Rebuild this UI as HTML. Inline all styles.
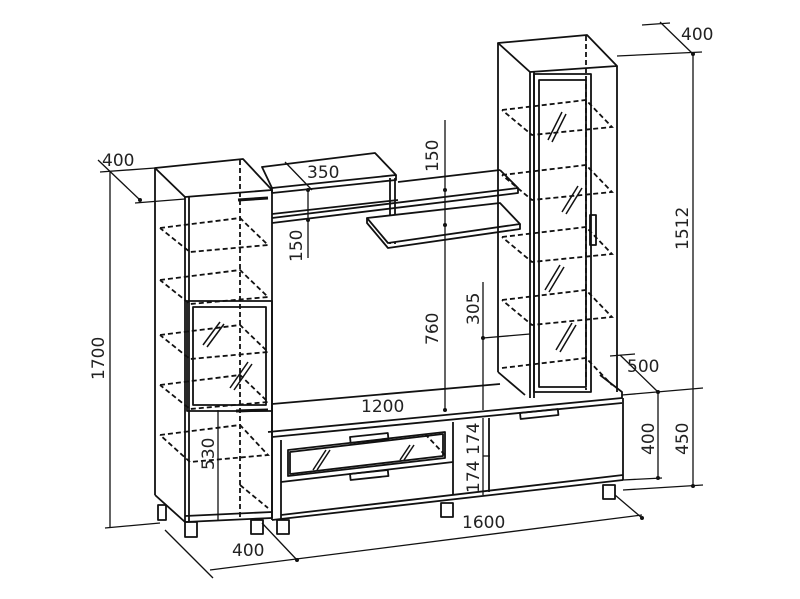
<!DOCTYPE html>
<html><head><meta charset="utf-8"><style>
html,body{margin:0;padding:0;background:#fff}
svg{display:block}
text{font-family:"DejaVu Sans","Liberation Sans",sans-serif;font-size:17px;fill:#222}
</style></head><body>
<svg width="800" height="599" viewBox="0 0 800 599" xmlns="http://www.w3.org/2000/svg">
<g fill="none" stroke="#111" stroke-width="1.8" stroke-linejoin="round">
<!-- LEFT TOWER -->
<polygon points="155,168 243,159 272,190 185,197" fill="#fff"/>
<line x1="155" y1="168" x2="155" y2="495"/>
<line x1="185" y1="197" x2="185" y2="522"/>
<line x1="189" y1="197" x2="189" y2="522"/>
<line x1="272" y1="190" x2="272" y2="518"/>
<line x1="155" y1="495" x2="185" y2="522"/>
<line x1="185" y1="522" x2="272" y2="518"/>
<line x1="185" y1="516" x2="272" y2="512"/>
<rect x="187" y="301" width="85" height="110"/>
<rect x="193" y="307" width="73" height="98"/>
<line x1="238" y1="200" x2="268" y2="198" stroke-width="3"/>
<line x1="236" y1="411" x2="268" y2="410" stroke-width="3"/>
<!-- legs -->
<rect x="158" y="505" width="8" height="15"/><rect x="185" y="522" width="12" height="15"/><rect x="251" y="520" width="12" height="14"/>
<!-- MIDDLE SHELVES -->
<polygon points="262,167 375,153 396,175 272,188" fill="#fff"/>
<polyline points="272,188 272,193 396,180 396,175"/>
<line x1="390" y1="178" x2="390" y2="244"/>
<line x1="395" y1="178" x2="395" y2="244"/>
<polygon points="272,215 378,203 500,170 512,186" fill="none" stroke="none"/>
<line x1="272" y1="214" x2="398" y2="200"/>
<line x1="398" y1="182" x2="500" y2="170"/>
<line x1="500" y1="170" x2="518" y2="188"/>
<polyline points="272,218 518,188 518,193 272,223"/>
<polygon points="367,218 500,203 520,224 388,243" fill="#fff"/>
<polyline points="367,218 367,223 388,248 520,229 520,224"/>
<!-- RIGHT TOWER -->
<polygon points="498,43 587,35 617,66 530,72" fill="#fff"/>
<line x1="498" y1="43" x2="498" y2="372"/>
<line x1="530" y1="72" x2="530" y2="398"/>
<line x1="534" y1="72" x2="534" y2="398"/>
<line x1="617" y1="66" x2="617" y2="392"/>
<line x1="498" y1="372" x2="525" y2="395"/>
<rect x="534" y="74" width="57" height="318"/>
<rect x="539" y="80" width="47" height="307"/>
<rect x="590" y="215" width="6" height="30"/>
<!-- LOW UNIT -->
<polygon points="272,432 272,397 445,381" fill="none" stroke="none"/>
<line x1="272" y1="432" x2="272" y2="405"/>
<line x1="272" y1="404" x2="500" y2="384"/>
<polyline points="268,432 622,398 622,392 600,375"/>
<line x1="272" y1="437" x2="622" y2="403"/>
<line x1="281" y1="440" x2="281" y2="520"/>
<line x1="272" y1="432" x2="272" y2="520"/>
<line x1="272" y1="520" x2="623" y2="480"/>
<line x1="281" y1="515" x2="623" y2="475"/>
<line x1="623" y1="398" x2="623" y2="480"/>
<line x1="453" y1="422" x2="453" y2="495"/>
<line x1="489" y1="418" x2="489" y2="492"/>
<line x1="281" y1="482" x2="453" y2="462"/>
<polygon points="288,450 445,432 445,458 288,476"/>
<polygon points="290,452 443,434 443,456 290,474"/>
<rect x="350" y="437" width="38" height="6" transform="rotate(-6 350 437)"/>
<rect x="350" y="474" width="38" height="6" transform="rotate(-6 350 474)"/>
<rect x="520" y="413" width="38" height="6" transform="rotate(-6 520 413)"/>
<rect x="277" y="520" width="12" height="14"/><rect x="441" y="503" width="12" height="14"/><rect x="603" y="485" width="12" height="14"/>
</g>
<!-- dashed internals -->
<g fill="none" stroke="#111" stroke-width="1.8" stroke-dasharray="5,3">
<line x1="240" y1="160" x2="240" y2="520"/>
<polyline points="160,228 240,218 268,245 190,252 160,228"/>
<polyline points="160,280 240,270 268,297 190,304 160,280"/>
<polyline points="160,335 240,325 268,352 190,359 160,335"/>
<polyline points="160,385 240,375 268,402 190,409 160,385"/>
<polyline points="160,435 240,425 268,455 190,462 160,435"/>
<polyline points="240,485 268,508"/>
<line x1="586" y1="36" x2="586" y2="390"/>
<polyline points="502,110 586,100 612,127 532,135 502,110"/>
<polyline points="502,175 586,165 612,192 532,200 502,175"/>
<polyline points="502,237 586,227 612,254 532,262 502,237"/>
<polyline points="502,300 586,290 612,317 532,325 502,300"/>
<polyline points="502,368 586,358 612,385"/>
<polyline points="425,434 445,455"/>
</g>
<!-- glass marks -->
<g stroke="#111" stroke-width="1.5">
<line x1="203" y1="345" x2="220" y2="322"/><line x1="207" y1="347" x2="224" y2="324"/>
<line x1="230" y1="388" x2="248" y2="362"/><line x1="234" y1="390" x2="252" y2="364"/>
<line x1="548" y1="140" x2="562" y2="112"/><line x1="552" y1="142" x2="566" y2="114"/>
<line x1="562" y1="212" x2="578" y2="186"/><line x1="566" y1="214" x2="582" y2="188"/>
<line x1="545" y1="290" x2="560" y2="265"/><line x1="549" y1="292" x2="564" y2="267"/>
<line x1="556" y1="350" x2="572" y2="323"/><line x1="560" y1="352" x2="576" y2="325"/>
<line x1="313" y1="470" x2="326" y2="450"/><line x1="317" y1="470" x2="330" y2="450"/>
<line x1="400" y1="460" x2="410" y2="445"/><line x1="404" y1="460" x2="414" y2="445"/>
</g>
<!-- dimension lines -->
<g fill="none" stroke="#111" stroke-width="1.3">
<line x1="98" y1="160" x2="140" y2="200"/><line x1="100" y1="172" x2="155" y2="168"/><line x1="135" y1="203" x2="185" y2="199"/>
<line x1="110" y1="172" x2="110" y2="528"/><line x1="105" y1="528" x2="160" y2="523"/>
<line x1="285" y1="162" x2="312" y2="190"/>
<line x1="308" y1="190" x2="308" y2="258"/>
<line x1="445" y1="120" x2="445" y2="410"/>
<line x1="483" y1="282" x2="483" y2="410"/><line x1="483" y1="338" x2="530" y2="334"/>
<line x1="483" y1="418" x2="483" y2="495"/><line x1="483" y1="456" x2="490" y2="456"/>
<line x1="218" y1="410" x2="218" y2="520"/>
<line x1="660" y1="22" x2="693" y2="54"/><line x1="617" y1="56" x2="702" y2="52"/><line x1="642" y1="25" x2="670" y2="23"/>
<line x1="693" y1="54" x2="693" y2="389"/>
<line x1="620" y1="355" x2="658" y2="392"/><line x1="610" y1="356" x2="635" y2="354"/>
<line x1="622" y1="395" x2="703" y2="388"/>
<line x1="658" y1="392" x2="658" y2="478"/><line x1="623" y1="480" x2="662" y2="478"/>
<line x1="693" y1="389" x2="693" y2="486"/><line x1="623" y1="490" x2="703" y2="485"/>
<line x1="615" y1="495" x2="642" y2="518"/>
<line x1="210" y1="570" x2="642" y2="515"/>
<line x1="262" y1="523" x2="297" y2="560"/>
<line x1="165" y1="530" x2="213" y2="578"/>
<line x1="120" y1="555" x2="300" y2="560" stroke="none"/>
</g>
<g fill="#111">
<circle cx="140" cy="200" r="2"/><circle cx="308" cy="190" r="2"/><circle cx="308" cy="220" r="2"/><circle cx="445" cy="190" r="2"/><circle cx="445" cy="225" r="2"/><circle cx="445" cy="410" r="2"/><circle cx="483" cy="338" r="2"/><circle cx="693" cy="54" r="2"/><circle cx="658" cy="392" r="2"/><circle cx="658" cy="478" r="2"/><circle cx="693" cy="486" r="2"/><circle cx="642" cy="518" r="2"/><circle cx="297" cy="560" r="2"/>
</g>
<!-- labels -->
<text x="102" y="166">400</text>
<text x="307" y="178">350</text>
<text x="681" y="40">400</text>
<text x="627" y="372">500</text>
<text x="361" y="412">1200</text>
<text x="462" y="528">1600</text>
<text x="232" y="556">400</text>
<g>
<text transform="translate(104,380) rotate(-90)">1700</text>
<text transform="translate(302,262) rotate(-90)">150</text>
<text transform="translate(438,172) rotate(-90)">150</text>
<text transform="translate(438,345) rotate(-90)">760</text>
<text transform="translate(479,325) rotate(-90)">305</text>
<text transform="translate(214,470) rotate(-90)">530</text>
<text transform="translate(479,455) rotate(-90)">174</text>
<text transform="translate(479,493) rotate(-90)">174</text>
<text transform="translate(688,250) rotate(-90)">1512</text>
<text transform="translate(654,455) rotate(-90)">400</text>
<text transform="translate(688,455) rotate(-90)">450</text>
</g>
</svg>
</body></html>
